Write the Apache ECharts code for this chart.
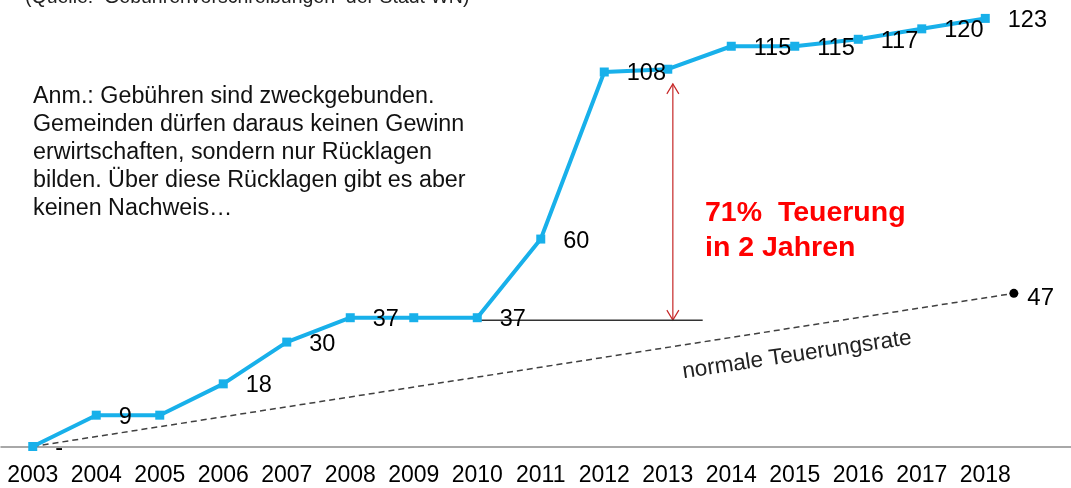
<!DOCTYPE html>
<html>
<head>
<meta charset="utf-8">
<script src="https://cdn.jsdelivr.net/npm/echarts@6/dist/echarts.min.js"></script>
<style>
html,body{margin:0;padding:0;background:#fff;}
#chart{width:1071px;height:488px;}
</style>
</head>
<body>
<div id="chart"></div>
<script>
// ---- data ----
var years = [2003, 2004, 2005, 2006, 2007, 2008, 2009, 2010, 2011, 2012, 2013, 2014, 2015, 2016, 2017, 2018];
var fees = [0, 9, 9, 18, 30, 37, 37, 37, 59.6, 107.6, 108.4, 115, 115, 117, 120, 123];
var feeLabels = ['-', '9', '', '18', '30', '37', '', '37', '60', '108', '', '115', '115', '117', '120', '123'];
// "normale Teuerungsrate" reference line (start / end)
var rateX = [2003, 2018.45];
var rateY = [0, 44];
var rateLabels = ['', '47'];
// level line at 37 and the 71% arrow
var levelX = [2010, 2013.55];
var levelY = 36.3;
var arrowX = 2013.08;
var arrowTop = 104.2;
var arrowBottom = 36.3;

var FONT = 'Liberation Sans, Arial, sans-serif';

var chart = echarts.init(document.getElementById('chart'), null, {renderer: 'canvas'});

var blueData = years.map(function (y, i) { return [y, fees[i]]; });
var rateData = rateX.map(function (x, i) {
  var last = i === rateX.length - 1;
  return {
    value: [x, rateY[i]],
    symbol: last ? 'circle' : 'none',
    symbolSize: 9,
    label: {show: last, formatter: rateLabels[i]}
  };
});

var option = {
  backgroundColor: '#ffffff',
  animation: false,
  grid: {left: 1, right: 0, top: 1, bottom: 41.5, containLabel: false},
  xAxis: {
    type: 'value',
    min: 2002.5,
    max: 2019.35,
    splitLine: {show: false},
    axisTick: {show: false},
    axisLine: {show: true, lineStyle: {color: '#8c8c8c', width: 1.5}},
    axisLabel: {
      customValues: years,
      formatter: function (v) { return String(v); },
      color: '#000',
      fontSize: 23,
      fontFamily: FONT,
      margin: 18
    }
  },
  yAxis: {
    type: 'value',
    min: 0,
    max: 128,
    show: false
  },
  series: [
    {
      type: 'line',
      data: rateData,
      lineStyle: {color: '#404040', width: 1.5, type: [6, 4]},
      itemStyle: {color: '#000'},
      label: {position: 'right', distance: 9, offset: [0, 5], color: '#000', fontSize: 24, fontFamily: FONT},
      z: 2
    },
    {
      type: 'line',
      data: levelX.map(function (x) { return [x, levelY]; }),
      symbol: 'none',
      lineStyle: {color: '#333', width: 1.5},
      z: 2
    },
    {
      type: 'custom',
      data: [[arrowX, arrowTop, arrowBottom]],
      renderItem: function (params, api) {
        var top = api.coord([api.value(0), api.value(1)]);
        var bot = api.coord([api.value(0), api.value(2)]);
        var x = top[0];
        var style = {stroke: '#c62828', lineWidth: 1.2, fill: null};
        return {
          type: 'group',
          children: [
            {type: 'line', shape: {x1: x, y1: top[1], x2: x, y2: bot[1]}, style: style},
            {type: 'polyline', shape: {points: [[x - 6, top[1] + 10], [x, top[1]], [x + 6, top[1] + 10]]}, style: style},
            {type: 'polyline', shape: {points: [[x - 6, bot[1] - 10], [x, bot[1]], [x + 6, bot[1] - 10]]}, style: style}
          ]
        };
      },
      z: 2
    },
    {
      type: 'line',
      data: blueData,
      symbol: 'rect',
      symbolSize: 9,
      lineStyle: {color: '#18b0ea', width: 4},
      itemStyle: {color: '#18b0ea'},
      label: {
        show: true,
        position: 'right',
        distance: 18,
        offset: [0, 2],
        color: '#000',
        fontSize: 23.5,
        fontFamily: FONT,
        formatter: function (p) { return feeLabels[p.dataIndex]; }
      },
      z: 5
    }
  ],
  graphic: [
    {
      type: 'text', left: 25, top: -12,
      style: {text: '(Quelle:  Gebührenvorschreibungen  der Stadt WN)', fontSize: 19.5, fontFamily: FONT, fill: '#222'}
    },
    {
      type: 'text', left: 33, top: 83,
      style: {
        text: 'Anm.: Gebühren sind zweckgebunden.\nGemeinden dürfen daraus keinen Gewinn\nerwirtschaften, sondern nur Rücklagen\nbilden. Über diese Rücklagen gibt es aber\nkeinen Nachweis…',
        fontSize: 23.3, lineHeight: 28, fontFamily: FONT, fill: '#111'
      }
    },
    {
      type: 'text', left: 705, top: 196,
      style: {
        text: '71%  Teuerung\nin 2 Jahren',
        fontSize: 28.5, fontWeight: 'bold', lineHeight: 35, fontFamily: FONT, fill: '#ff0000'
      }
    },
    {
      type: 'text', x: 797, y: 355, rotation: 8.5 * Math.PI / 180,
      style: {
        text: 'normale Teuerungsrate', fontSize: 22.5, fontFamily: FONT, fill: '#222',
        align: 'center', verticalAlign: 'middle'
      }
    }
  ]
};
chart.setOption(option);
</script>
</body>
</html>
